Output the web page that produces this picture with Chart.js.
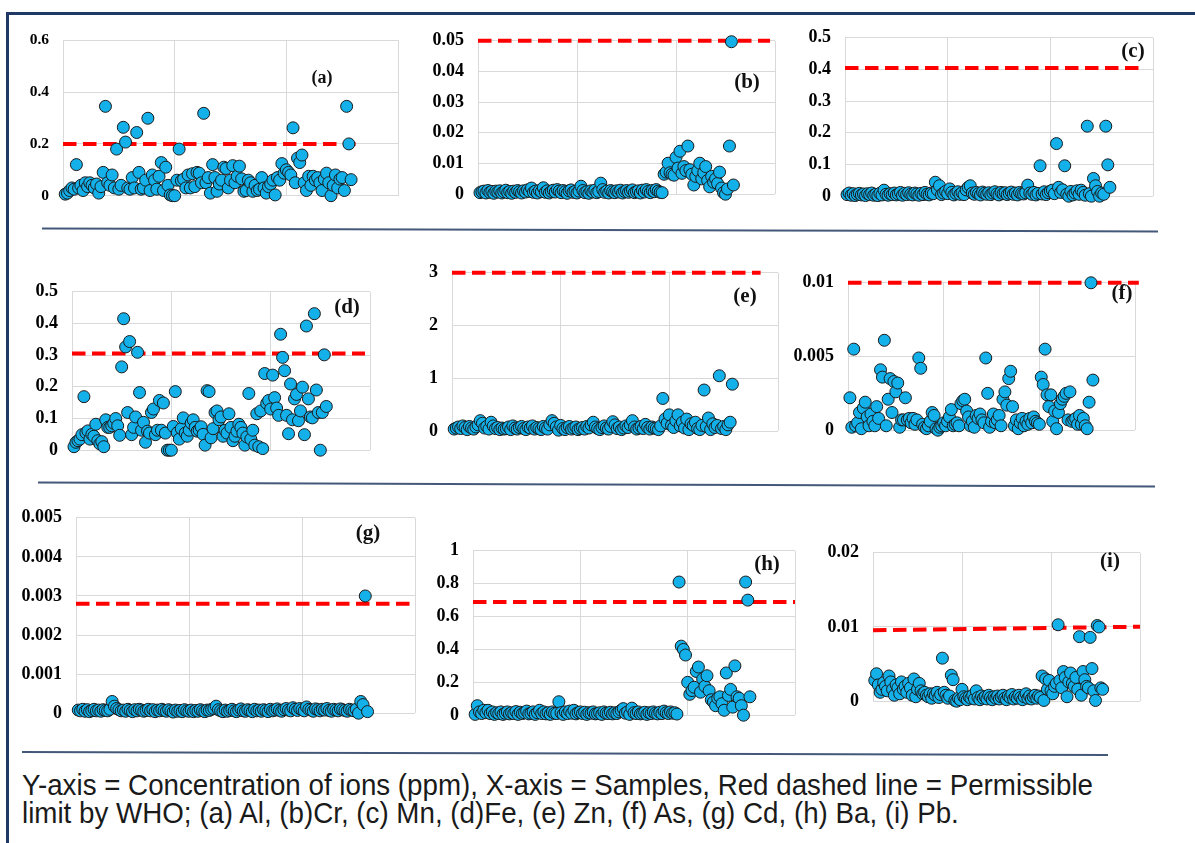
<!DOCTYPE html>
<html><head><meta charset="utf-8">
<script src="https://cdn.jsdelivr.net/npm/chart.js@4.4.1/dist/chart.umd.min.js"></script>
<style>
html,body{margin:0;padding:0;background:#fff;}
#root{position:relative;width:1195px;height:843px;overflow:hidden;background:#fff;}
canvas{position:absolute;}
svg{position:absolute;left:0;top:0;}
.tag{position:absolute;font-family:"Liberation Serif","Times New Roman",serif;font-weight:bold;color:#111;transform:translate(-50%,-50%);white-space:nowrap;line-height:1;}
.cap{position:absolute;left:22px;font-family:"Liberation Sans",Arial,sans-serif;font-size:29px;line-height:28px;color:#1a1a1a;white-space:nowrap;transform-origin:0 0;}
</style></head><body><div id="root">
<svg width="1195" height="843">
 <line x1="7.5" y1="13.5" x2="1195" y2="13.5" stroke="#1f3864" stroke-width="3"/>
 <line x1="7.5" y1="12" x2="7.5" y2="843" stroke="#1f3864" stroke-width="3"/>
 <line x1="42" y1="228.5" x2="1158" y2="231.5" stroke="#44587a" stroke-width="2"/>
 <line x1="38" y1="482.5" x2="1155" y2="486.5" stroke="#44587a" stroke-width="2"/>
 <line x1="22" y1="752" x2="1108" y2="755" stroke="#44587a" stroke-width="2"/>
</svg>
<div id="cap1" class="cap" style="top:771px">Y-axis = Concentration of ions (ppm), X-axis = Samples, Red dashed line = Permissible</div>
<div id="cap2" class="cap" style="top:799px">limit by WHO; (a) Al, (b)Cr, (c) Mn, (d)Fe, (e) Zn, (f) As, (g) Cd, (h) Ba, (i) Pb.</div>
</div>
<script>
// ---------------- data (ppm, by sample number 1..N) ----------------
const panelTags = ['(a)','(b)','(c)','(d)','(e)','(f)','(g)','(h)','(i)'];
const ions = ['Al','Cr','Mn','Fe','Zn','As','Cd','Ba','Pb'];
const xTicks = [0, 50, 100, 150];

const alValues = [0.006,0.01,0.02,0.03,0.025,0.12,0.03,0.04,0.02,0.05,
0.035,0.05,0.04,0.03,0.045,0.01,0.035,0.09,0.345,0.05,
0.04,0.08,0.03,0.18,0.025,0.04,0.264,0.207,0.03,0.025,
0.07,0.03,0.244,0.09,0.025,0.03,0.06,0.299,0.02,0.08,
0.06,0.025,0.075,0.128,0.02,0.11,0.04,0.003,0,0,
0.06,0.18,0.058,0.064,0.03,0.08,0.03,0.085,0.035,0.09,
0.087,0.05,0.318,0.05,0.07,0.01,0.12,0.07,0.017,0.045,
0.06,0.11,0.105,0.03,0.06,0.116,0.05,0.075,0.114,0.065,
0.017,0.02,0.06,0.05,0.017,0.04,0.02,0.025,0.07,0.03,
0.01,0.035,0.045,0.06,0.003,0.07,0.06,0.124,0.087,0.1,
0.09,0.08,0.262,0.05,0.145,0.128,0.157,0.05,0.02,0.075,
0.04,0.075,0.06,0.07,0.05,0.02,0.064,0.087,0.05,0,
0.04,0.08,0.03,0.064,0.07,0.02,0.345,0.2,0.062];

const crValues = [0.0005,0.0008,0.001,0.0004,0.0012,0.0006,0.0009,0.0003,0.001,0.0007,
0.0011,0.0004,0.0008,0.0013,0.0005,0.0009,0.0003,0.001,0.0006,0.0012,
0.0008,0.0004,0.0011,0.0007,0.0014,0.0009,0.002,0.0006,0.001,0.0004,
0.0012,0.0008,0.0021,0.0006,0.0011,0.0004,0.0009,0.0013,0.0007,0.0015,
0.001,0.0005,0.0012,0.0008,0.0003,0.0011,0.0014,0.0006,0.0009,0.0004,
0.001,0.0026,0.0012,0.0005,0.0008,0.0003,0.0011,0.0007,0.0013,0.0005,
0.0009,0.0036,0.0015,0.0006,0.001,0.0004,0.0012,0.0008,0.0005,0.0011,
0.0007,0.0013,0.0004,0.0009,0.0012,0.0006,0.001,0.0014,0.0005,0.0008,
0.0011,0.0004,0.0013,0.0007,0.0015,0.0009,0.0005,0.0012,0.0008,0.0015,
0.001,0.0006,0.0005,0.0065,0.0072,0.0101,0.007,0.0065,0.0062,0.012,
0.0085,0.014,0.0068,0.009,0.0077,0.0157,0.008,0.0065,0.003,0.0058,
0.0077,0.0101,0.005,0.007,0.009,0.0045,0.0024,0.0058,0.0039,0.005,
0.0035,0.0072,0.002,0.0005,0,0.0017,0.0157,0.0497,0.003];

const mnValues = [0.005,0.01,0.003,0.008,0.002,0.006,0.009,0.004,0.007,0.002,
0.008,0.005,0.01,0.003,0.006,0.002,0.009,0.004,0.019,0.006,
0.003,0.008,0.005,0.01,0.004,0.007,0.012,0.003,0.009,0.005,
0.011,0.006,0.004,0.01,0.007,0.003,0.009,0.005,0.012,0.006,
0.004,0.01,0.008,0.044,0.02,0.033,0.005,0.01,0.015,0.008,
0.023,0.012,0.004,0.009,0.014,0.006,0.011,0.005,0.02,0.028,
0.033,0.01,0.006,0.012,0.008,0.004,0.013,0.009,0.006,0.011,
0.005,0.01,0.014,0.007,0.004,0.012,0.008,0.011,0.005,0.009,
0.013,0.006,0.01,0.004,0.012,0.008,0.007,0.011,0.035,0.01,
0.006,0.012,0.004,0.009,0.096,0.007,0.014,0.005,0.011,0.016,
0.019,0.008,0.166,0.028,0.012,0.02,0.096,0.006,0,0.015,
0.004,0.01,0.017,0.006,0.019,0.012,0.003,0.221,0.008,0,
0.056,0.033,0.015,0,0.01,0.006,0.221,0.099,0.028];

const feValues = [0.011,0.025,0.03,0.035,0.049,0.169,0.055,0.061,0.035,0.05,
0.044,0.082,0.03,0.02,0.027,0.011,0.096,0.072,0.072,0.077,
0.085,0.1,0.077,0.047,0.263,0.415,0.326,0.119,0.343,0.049,
0.072,0.105,0.309,0.182,0.063,0.088,0.025,0.06,0.054,0.119,
0.13,0.049,0.063,0.157,0.063,0.149,0.054,0,0,0,
0.075,0.185,0.055,0.035,0.068,0.102,0.054,0.044,0.063,0.085,
0.096,0.072,0.06,0.063,0.074,0.05,0.016,0.188,0.185,0.039,
0.068,0.119,0.124,0.096,0.105,0.044,0.063,0.054,0.115,0.072,
0.03,0.044,0.06,0.082,0.072,0.054,0.016,0.042,0.179,0.035,
0.063,0.016,0.115,0.011,0.124,0.005,0.242,0.148,0.157,0.13,
0.237,0.166,0.133,0.11,0.366,0.293,0.251,0.11,0.052,0.209,
0.096,0.162,0.176,0.093,0.124,0.199,0.049,0.392,0.162,0.105,
0.102,0.431,0.19,0.119,0,0.119,0.301,0.138];

const znValues = [0.04,0.06,0.08,0.05,0.1,0.07,0.03,0.09,0.06,0.04,
0.08,0.12,0.2,0.15,0.06,0.09,0.04,0.17,0.1,0.05,
0.07,0.03,0.06,0.04,0.05,0.08,0.03,0.1,0.06,0.04,
0.07,0.09,0.05,0.03,0.08,0.06,0.1,0.04,0.07,0.05,
0.03,0.09,0.06,0.04,0.12,0.2,0.15,0.08,0.02,0.11,
0.05,0.03,0.07,0.09,0.04,0.06,0.08,0.03,0.05,0.07,
0.04,0.09,0.06,0.12,0.17,0.08,0.05,0.03,0.07,0.1,
0.06,0.04,0.09,0.18,0.12,0.05,0.08,0.03,0.06,0.1,
0.07,0.12,0.2,0.08,0.04,0.06,0.09,0.05,0.13,0.07,
0.04,0.08,0.06,0.05,0.03,0.1,0.62,0.23,0.15,0.31,
0.11,0.07,0.2,0.31,0.1,0.17,0.06,0.23,0.03,0.14,
0.11,0.17,0.05,0.03,0.11,0.78,0.09,0.25,0.03,0.14,
0.07,0.11,1.05,0.05,0.09,0.03,0.12,0.17,0.89];

const asValues = [0.0022,0.0002,0.0055,0.0003,0.0005,0.0012,0.0001,0.0015,0.0019,0.0009,
0.0003,0.0011,0.0006,0.0003,0.0016,0.0008,0.0041,0.0036,0.0061,0.0003,
0.0021,0.0035,0.0012,0.0033,0.0026,0.0032,0.0002,0.0007,0.0007,0.0022,
0.0007,0.0008,0.0005,0.0008,0.0004,0.0007,0.0049,0.0042,0.0004,0.0002,
0.0001,0.0003,0.0006,0.0012,0.001,0.0001,0,0.0002,0.0003,0.0005,
0.0003,0.0006,0.0009,0.0014,0.0003,0.0004,0.0005,0.0003,0.0018,0.002,
0.0021,0.0013,0.0009,0.0003,0.0006,0.0002,0.001,0.0008,0.0011,0.0007,
0.0005,0.0049,0.0025,0.0002,0.0006,0.0011,0.0005,0.0007,0.001,0.0003,
0.0021,0.0026,0.0017,0.0035,0.004,0.0016,0.0003,0.0007,0.0001,0.0005,
0.0008,0.0003,0.0006,0.0004,0.0008,0.0005,0.0009,0.0006,0.0005,0.0004,
0.0036,0.0031,0.0055,0.0024,0.0016,0.0024,0.0006,0.0013,0.0001,0.0012,
0.0018,0.0021,0.0023,0.0025,0.0007,0.0026,0.0006,0.0007,0.0008,0.0004,
0.001,0.0004,0.0008,0.0003,0.0001,0.0019,0.01,0.0034];

const cdValues = [0.00008,0.00006,0.0001,0.00005,0.00009,0.00004,0.00007,0.0001,0.00006,0.00008,
0.00005,0.00009,0.00007,0.00006,0.0001,0.0003,0.00018,0.00012,0.00009,0.00006,
0.00008,0.00005,0.0001,0.00007,0.00004,0.00009,0.00006,0.0001,0.00008,0.00005,
0.00007,0.0001,0.00006,0.00009,0.00004,0.00008,0.00006,0.0001,0.00007,0.00005,
0.00009,0.00006,0.00003,0.00008,0.00005,0.00007,0.00004,0.00009,0.00006,0.00005,
0.00008,0.00004,0.00007,0.00005,0.00009,0.00006,0.00004,0.00008,0.00007,0.0001,
0.00012,0.00018,0.00009,0.00006,0.00004,0.00008,0.00005,0.00007,0.0001,0.00006,
0.00004,0.00008,0.00011,0.00006,0.00005,0.00009,0.00007,0.00004,0.0001,0.00006,
0.00008,0.00005,0.00009,0.00007,0.00004,0.0001,0.00006,0.00008,0.00011,0.00007,
0.00005,0.00009,0.00012,0.00008,0.00006,0.00014,0.0001,0.00007,0.00012,0.00009,
0.00006,0.00016,0.0001,0.00008,0.00005,0.00011,0.00009,0.00006,0.0001,0.00008,
0.00012,0.00007,0.00005,0.0001,0.00008,0.00006,0.00011,0.00009,0.00007,0.00005,
0.0001,0.00008,0.00006,0.0001,0,0.0003,0.00022,0.003,0.00004];

const baValues = [0.005,0.058,0.02,0.01,0.03,0.015,0.03,0.01,0.02,0.005,
0.015,0.01,0.02,0.005,0.012,0.02,0.008,0.015,0.01,0.022,
0.005,0.018,0.01,0.015,0.025,0.008,0.012,0.02,0.005,0.015,
0.03,0.01,0.02,0.008,0.015,0.005,0.02,0.012,0.01,0.082,
0.015,0.005,0.02,0.01,0.025,0.012,0.03,0.008,0.015,0.02,
0.01,0.018,0.005,0.015,0.012,0.02,0.008,0.01,0.015,0.005,
0.02,0.012,0.01,0.018,0.008,0.015,0.01,0.02,0.03,0.04,
0.012,0.02,0.005,0.043,0.015,0.01,0.02,0.008,0.012,0.018,
0.005,0.015,0.01,0.02,0.012,0.008,0.018,0.01,0.025,0.015,
0.01,0.02,0.012,0.015,0.007,0.81,0.42,0.4,0.366,0.2,
0.127,0.15,0.17,0.266,0.293,0.14,0.22,0.176,0.24,0.149,
0.094,0.08,0.058,0.103,0.112,0.07,0.03,0.257,0.12,0.157,
0.049,0.3,0.112,0.103,0.058,0,0.81,0.7,0.112];

const pbValues = [0.0028,0.0037,0.0022,0.0012,0.0016,0.0025,0.002,0.0014,0.0034,0.0026,
0.0016,0.0008,0.0022,0.0018,0.001,0.0026,0.0016,0.002,0.0012,0.0024,
0.0018,0.0008,0.003,0.0006,0.0016,0.0024,0.0014,0.001,0.0012,0.0008,
0.0006,0.001,0.0004,0.001,0.0008,0.0012,0.0005,0.0009,0.0058,0.0012,
0.0008,0.0004,0.0007,0.0035,0.0029,0.0001,0,0.0004,0.0002,0.0016,
0.0006,0.0004,0.0002,0.0006,0.0004,0.0008,0.0003,0.0014,0.0005,0.0002,
0.0007,0.0004,0.0006,0.0003,0.0008,0.0005,0.0002,0.0006,0.0004,0.0007,
0.0003,0.0006,0.0008,0.0004,0.0002,0.0007,0.0005,0.0009,0.0003,0.0006,
0.0004,0.0008,0.0005,0.0002,0.0006,0.001,0.0004,0.0007,0.0003,0.0006,
0.0008,0.0004,0.0007,0.0005,0.0034,0.0001,0.003,0.0016,0.0028,0.0014,
0.001,0.002,0.0024,0.0103,0.0028,0.0018,0.004,0.0032,0.0006,0.0026,
0.0038,0.0024,0.002,0.0032,0.0016,0.0087,0.0008,0.004,0.0029,0.002,
0.0018,0.0086,0.0044,0.0014,0.0001,0.0102,0.01,0.0018,0.0016];

// WHO permissible limits (start value, end value) as drawn
const whoLimitStart = [0.2, 0.05, 0.405, 0.305, 3, 0.01, 0.0028, 0.688, 0.00956];
const whoLimitEnd   = [0.2, 0.05, 0.405, 0.305, 3, 0.01, 0.0028, 0.688, 0.01004];
const yMaxes  = [0.6, 0.05, 0.5, 0.5, 3, 0.01, 0.005, 1, 0.02];
const ySteps  = [0.2, 0.01, 0.1, 0.1, 1, 0.005, 0.001, 0.2, 0.01];

const seriesValues = [alValues, crValues, mnValues, feValues, znValues, asValues, cdValues, baValues, pbValues];

// ---------------- layout (pixels) ----------------
const layoutBoxes = [
  {box:[63,33,398,205],  tick:15.5, tagAt:[322,77],  tagSize:18, lineX:[0,131]},
  {box:[478,32,775,205], tick:18,   tagAt:[747,81],  tagSize:21, lineX:[0,147.5]},
  {box:[845,29,1153,207],tick:18,   tagAt:[1133,50], tagSize:21, lineX:[0,143]},
  {box:[72,283,370,461], tick:18,   tagAt:[347,306], tagSize:21, lineX:[0,147.5]},
  {box:[452,264,778,442],tick:18,   tagAt:[745,295], tagSize:21, lineX:[0,142]},
  {box:[848,274,1135,441],tick:18,  tagAt:[1122,292],tagSize:21, lineX:[0,152]},
  {box:[76,509,415,724], tick:18,   tagAt:[368,532], tagSize:21, lineX:[0,150]},
  {box:[473,542,795,726],tick:18,   tagAt:[767,563], tagSize:21, lineX:[0,150]},
  {box:[873,544,1140,712],tick:18,  tagAt:[1110,560],tagSize:21, lineX:[0,150]}
];

const root = document.getElementById('root');
const Y_W = 60, PAD_T = 16, PAD_R = 22, PAD_B = 14;
const fmt = v => String(+(+v).toFixed(6));

layoutBoxes.forEach((L, k) => {
  const [x0, y0, x1, y1] = L.box;
  const cv = document.createElement('canvas');
  const W = Y_W + (x1 - x0) + PAD_R, H = PAD_T + (y1 - y0) + PAD_B;
  cv.width = W; cv.height = H;
  cv.style.left = (x0 - Y_W) + 'px'; cv.style.top = (y0 - PAD_T) + 'px';
  cv.style.width = W + 'px'; cv.style.height = H + 'px';
  root.appendChild(cv);

  const pts = seriesValues[k].map((v, i) => ({x: i + 1, y: v}));
  new Chart(cv.getContext('2d'), {
    type: 'scatter',
    data: { datasets: [
      { label: ions[k], data: pts, pointRadius: 6, pointHoverRadius: 6,
        pointBackgroundColor: '#14b0ea', pointBorderColor: '#1a1a1a', pointBorderWidth: 1,
        showLine: false, clip: false },
      { label: 'WHO limit', data: [{x: L.lineX[0], y: whoLimitStart[k]}, {x: L.lineX[1], y: whoLimitEnd[k]}],
        showLine: true, borderColor: '#ff0000', borderWidth: 4, borderDash: [13.5, 6.5],
        pointRadius: 0, fill: false, clip: false }
    ]},
    options: {
      responsive: false, animation: false, devicePixelRatio: 1,
      layout: { padding: { top: PAD_T, right: PAD_R, bottom: PAD_B, left: 0 } },
      plugins: { legend: { display: false }, tooltip: { enabled: false } },
      events: [],
      scales: {
        x: { type: 'linear', min: xTicks[0], max: xTicks[xTicks.length - 1],
             afterBuildTicks: s => { s.ticks = xTicks.map(v => ({value: v})); },
             ticks: { display: false },
             grid: { color: '#d9d9d9', lineWidth: 1, drawTicks: false },
             border: { display: false } },
        y: { type: 'linear', min: 0, max: yMaxes[k],
             ticks: { stepSize: ySteps[k], callback: fmt, color: '#000', padding: 14,
                      font: { family: '"Liberation Serif","Times New Roman",serif', size: L.tick, weight: 'bold' } },
             grid: { color: '#d9d9d9', lineWidth: 1, drawTicks: false },
             border: { display: false },
             afterFit: s => { s.width = Y_W; } }
      }
    }
  });

  const t = document.createElement('div');
  t.className = 'tag';
  t.textContent = panelTags[k];
  t.style.left = L.tagAt[0] + 'px'; t.style.top = L.tagAt[1] + 'px';
  t.style.fontSize = L.tagSize + 'px';
  root.appendChild(t);
});

// caption: horizontally condense to the reference width
const c1 = document.getElementById('cap1'), c2 = document.getElementById('cap2');
const sx = 1071 / c1.getBoundingClientRect().width;
c1.style.transform = 'scaleX(' + sx + ')';
c2.style.transform = 'scaleX(' + sx + ')';
</script>
</body></html>
